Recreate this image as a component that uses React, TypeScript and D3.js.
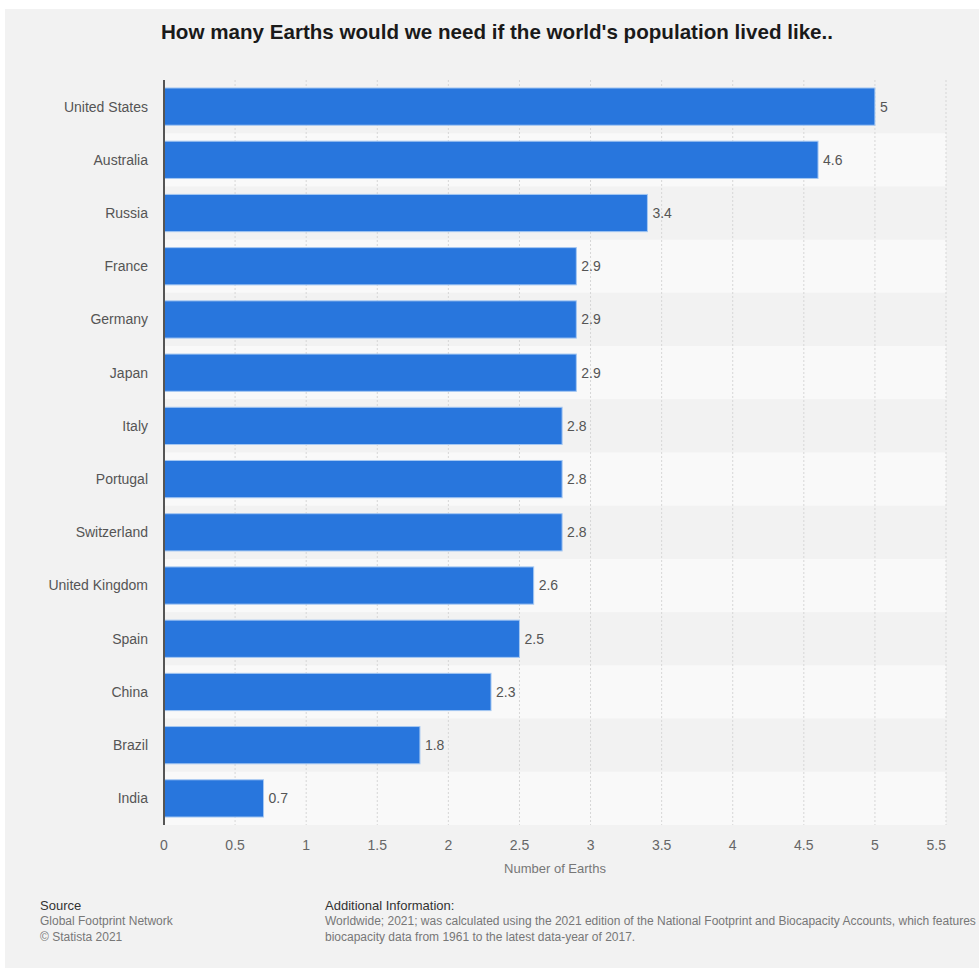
import React from "react";
import * as d3 from "d3";

const categories = [
  "United States", "Australia", "Russia", "France", "Germany", "Japan", "Italy",
  "Portugal", "Switzerland", "United Kingdom", "Spain", "China", "Brazil", "India",
];
const values = [5, 4.6, 3.4, 2.9, 2.9, 2.9, 2.8, 2.8, 2.8, 2.6, 2.5, 2.3, 1.8, 0.7];
const xTicks = [0, 0.5, 1, 1.5, 2, 2.5, 3, 3.5, 4, 4.5, 5, 5.5];
const title = "How many Earths would we need if the world's population lived like..";
const xAxisTitle = "Number of Earths";
const sourceLines = ["Global Footprint Network", "© Statista 2021"];
const infoLines = [
  "Worldwide; 2021; was calculated using the 2021 edition of the National Footprint and Biocapacity Accounts, which features",
  "biocapacity data from 1961 to the latest data-year of 2017.",
];

const W = 979;
const H = 975;
const left = 164;
const right = 946;
const top = 80;
const bottom = 825;
const font = "'Liberation Sans', Arial, sans-serif";

export default function App() {
  const x = d3.scaleLinear().domain([0, 5.5]).range([left, right]);
  const y = d3.scaleBand<string>().domain(categories).range([top, bottom]).paddingInner(0.3).paddingOuter(0.15);
  const band = d3.scaleBand<string>().domain(categories).range([top, bottom]).padding(0);

  return (
    <svg width={W} height={H} style={{ position: "absolute", left: 0, top: 0 }} fontFamily={font}>
      <rect x={0} y={0} width={W} height={H} fill="#ffffff" />
      <rect x={5} y={9} width={W - 5} height={959} fill="#f2f2f2" />
      <text x={497} y={39} textAnchor="middle" fontSize={20.6} fontWeight="bold" fill="#1a1a1a">
        {title}
      </text>
      {categories.map((c, i) =>
        i % 2 === 1 ? (
          <rect key={"s" + c} x={left} y={band(c)!} width={right - left} height={band.bandwidth()} fill="#f9f9f9" />
        ) : null
      )}
      {xTicks.map((t) => (
        <line key={"g" + t} x1={x(t)} x2={x(t)} y1={top} y2={bottom} stroke="#d6d6d6" strokeWidth={1} strokeDasharray="2,2" />
      ))}
      {categories.map((c, i) => (
        <g key={c}>
          <rect x={x(0)} y={y(c)!} width={x(values[i]) - x(0)} height={y.bandwidth()} fill="#2876dd" stroke="#a5c8f2" strokeWidth={1} />
          <text x={x(values[i]) + 5} y={y(c)! + y.bandwidth() / 2} dy="0.35em" fontSize={14} fill="#555">
            {values[i]}
          </text>
          <text x={148} y={band(c)! + band.bandwidth() / 2} dy="0.35em" textAnchor="end" fontSize={14} fill="#555">
            {c}
          </text>
        </g>
      ))}
      <line x1={left} x2={left} y1={top} y2={bottom} stroke="#555" strokeWidth={2} />
      {xTicks.map((t, i) => (
        <text key={"t" + t} x={i === xTicks.length - 1 ? right : x(t)} y={850} textAnchor={i === xTicks.length - 1 ? "end" : "middle"} fontSize={14} fill="#666">
          {t}
        </text>
      ))}
      <text x={(left + right) / 2} y={873} textAnchor="middle" fontSize={13} fill="#777">
        {xAxisTitle}
      </text>
      <text x={40} y={910} fontSize={13} fill="#333">Source</text>
      {sourceLines.map((s, i) => (
        <text key={s} x={40} y={925 + i * 16} fontSize={12} fill="#777">{s}</text>
      ))}
      <text x={325} y={910} fontSize={13} fill="#333">Additional Information:</text>
      {infoLines.map((s, i) => (
        <text key={i} x={325} y={925 + i * 16} fontSize={12} fill="#777">{s}</text>
      ))}
    </svg>
  );
}
